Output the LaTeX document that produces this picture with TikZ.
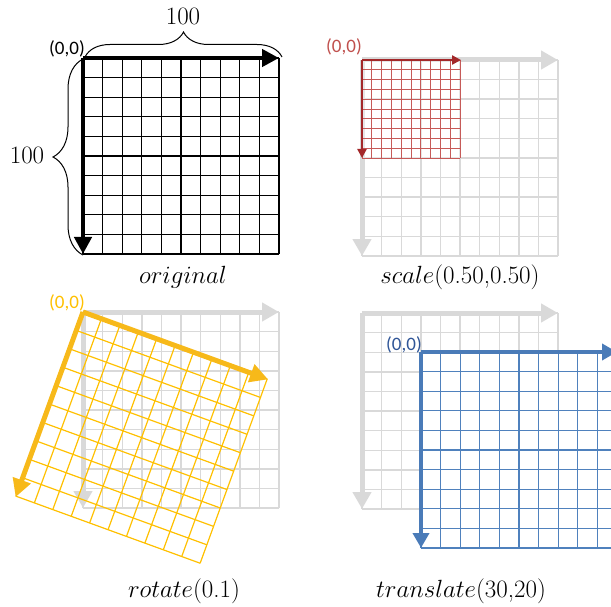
\documentclass[tikz,border=0pt]{standalone}
\usepackage{fontspec}
\newfontfamily\calib{Carlito}
\usetikzlibrary{arrows.meta,decorations.pathreplacing}
\definecolor{ggray}{HTML}{D9D9D9}
\definecolor{redline}{HTML}{C65A58}
\definecolor{redarrow}{HTML}{A3282A}
\definecolor{redlbl}{HTML}{C0504D}
\definecolor{yel}{HTML}{FFC000}
\definecolor{yelarrow}{HTML}{F7B91A}
\definecolor{blueline}{HTML}{4F81BD}
\definecolor{bluearrow}{HTML}{4A7BB8}
\definecolor{bluelbl}{HTML}{2F5597}
\begin{document}
\begin{tikzpicture}[x=1pt,y=-1pt,
  title/.style={font=\fontsize{25}{30}\selectfont, inner sep=0pt, anchor=base},
  numlbl/.style={font=\fontsize{25}{30}\selectfont, inner sep=0pt},
  origlbl/.style={font=\calib\fontsize{19}{22}\selectfont, inner sep=0pt},
  sqgrid/.pic={\foreach \i in {0,...,10}{
      \draw[pic actions] (\i*19.6,0) -- (\i*19.6,196);
      \draw[pic actions] (0,\i*19.6) -- (196,\i*19.6);}},
  bigarrow/.style={line width=4.5pt, -{Triangle[length=17pt,width=17pt]}},
  grayarrow/.style={ggray, line width=5pt, -{Triangle[length=17pt,width=18pt]}},
  graygrid/.style={ggray, line width=1.4pt},
  bracestyle/.style={decorate, line width=1pt},
]
\path[use as bounding box] (0,0) rectangle (611,607);
\clip (0,0) rectangle (611,607);

% ---------- panel 1: original ----------
\begin{scope}[shift={(83,58)}]
  \pic[black, line width=1.1pt] {sqgrid};
  \coordinate (o1) at (0,0);
  \coordinate (x1) at (196,0);
  \coordinate (y1) at (0,196);
  \draw[bigarrow] (o1) -- (x1);
  \draw[bigarrow] (o1) -- (y1);
\end{scope}
\draw[bracestyle, decoration={brace, amplitude=25pt}] (85,57) -- (282,57);
\draw[bracestyle, decoration={brace, amplitude=30pt}] (83,255) -- (83,59);
\node[numlbl] (t100) at (183,16) {100};
\node[numlbl] (l100) at (27,155) {100};
\node[origlbl] (o1lbl) at (67,49) {(0,0)};
\node[title] (tori) at (183,283) {$original$};

% ---------- panel 2: scale ----------
\begin{scope}[shift={(362,60)}]
  \pic[graygrid] {sqgrid};
  \coordinate (o2) at (0,0);
  \draw[grayarrow] (o2) -- (196,0);
  \draw[grayarrow] (o2) -- (0,196);
  \fill[white, opacity=0.35] (0,0) rectangle (98,98);
  \pic[redline, line width=0.9pt, scale=0.5] {sqgrid};
  \draw[redarrow, line width=2.3pt, -{Triangle[length=9pt,width=9pt]}] (o2) -- (99,0);
  \draw[redarrow, line width=2.3pt, -{Triangle[length=9pt,width=9pt]}] (o2) -- (0,98);
\end{scope}
\node[origlbl, text=redlbl] (o2lbl) at (344,47) {(0,0)};
\node[title] (tsc) at (460,283) {$scale$(0.50,0.50)};

% ---------- panel 3: rotate ----------
\begin{scope}[shift={(83,312)}]
  \pic[graygrid] {sqgrid};
  \coordinate (o3) at (0,0);
  \draw[grayarrow] (o3) -- (196,0);
  \draw[grayarrow] (o3) -- (0,196);
\end{scope}
\begin{scope}[shift={(83,312)}, rotate=-20]
  \pic[yel, line width=1.2pt, transform shape] {sqgrid};
  \coordinate (o3r) at (0,0);
  \draw[yelarrow, line width=5pt, -{Triangle[length=18pt,width=18pt]}] (o3r) -- (197,0);
  \draw[yelarrow, line width=5pt, -{Triangle[length=18pt,width=18pt]}] (o3r) -- (0,197);
\end{scope}
\node[origlbl, text=yel] (o3lbl) at (67,303) {(0,0)};
\node[title] (trot) at (184,597) {$rotate$(0.1)};

% ---------- panel 4: translate ----------
\begin{scope}[shift={(362,313)}]
  \pic[graygrid] {sqgrid};
  \coordinate (o4) at (0,0);
  \draw[grayarrow] (o4) -- (196,0);
  \draw[grayarrow] (o4) -- (0,196);
\end{scope}
\begin{scope}[shift={(421,352)}]
  \fill[white] (0,0) rectangle (196,196);
  \pic[blueline, line width=1.2pt] {sqgrid};
  \coordinate (o4t) at (0,0);
  \draw[bluearrow, line width=4.5pt, -{Triangle[length=15pt,width=16pt]}] (o4t) -- (196,0);
  \draw[bluearrow, line width=4.5pt, -{Triangle[length=15pt,width=16pt]}] (o4t) -- (0,196);
\end{scope}
\node[origlbl, text=bluelbl] (o4lbl) at (404,345) {(0,0)};
\node[title] (ttr) at (461,597) {$translate$(30,20)};
\end{tikzpicture}
\end{document}
